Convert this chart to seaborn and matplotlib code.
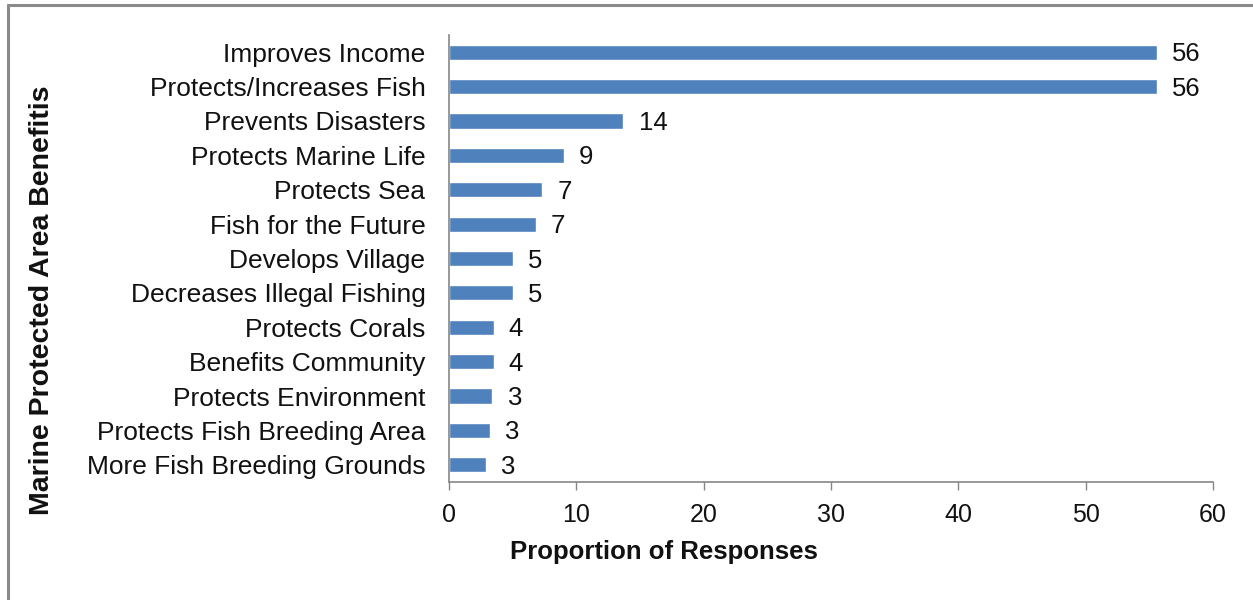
import matplotlib
matplotlib.use("Agg")
import matplotlib.pyplot as plt
from matplotlib.lines import Line2D
import seaborn as sns
import pandas as pd

# Benefits named by respondents and their share of responses (%)
benefits = [
    "Improves Income",
    "Protects/Increases Fish",
    "Prevents Disasters",
    "Protects Marine Life",
    "Protects Sea",
    "Fish for the Future",
    "Develops Village",
    "Decreases Illegal Fishing",
    "Protects Corals",
    "Benefits Community",
    "Protects Environment",
    "Protects Fish Breeding Area",
    "More Fish Breeding Grounds",
]
proportions = [55.6, 55.6, 13.7, 9.0, 7.3, 6.8, 5.0, 5.0, 3.5, 3.5, 3.4, 3.2, 2.9]
x_ticks = [0, 10, 20, 30, 40, 50, 60]

df = pd.DataFrame({"benefit": benefits, "proportion": proportions})

sns.set_theme(style="white")
plt.rcParams["font.family"] = ["Liberation Sans", "DejaVu Sans"]

W, H = 1253, 600
fig = plt.figure(figsize=(W / 100, H / 100), dpi=100)
ax = fig.add_axes([449 / W, 1 - 482 / H, (1213 - 449) / W, (482 - 35) / H])

bar_color = "#4F81BD"
sns.barplot(data=df, x="proportion", y="benefit", orient="h",
            color=bar_color, width=0.44, saturation=1, ax=ax)

# value labels at the end of each bar
for i, v in enumerate(proportions):
    ax.text(v + 1.2, i + 0.06, f"{v:.0f}", va="center", ha="left",
            fontsize=18.5, color="#111111")

ax.set_xlim(0, 60)
ax.set_ylim(len(benefits) - 0.5, -0.5)
ax.set_xticks(x_ticks)
ax.set_xticklabels([str(t) for t in x_ticks], fontsize=18, color="#111111")
ax.tick_params(axis="x", direction="out", length=6, width=1,
               color="#868686", pad=9, bottom=True)
ax.tick_params(axis="y", length=0, pad=17, labelsize=19,
               labelcolor="#111111")

for side in ("top", "right"):
    ax.spines[side].set_visible(False)
for side in ("left", "bottom"):
    ax.spines[side].set_color("#868686")
    ax.spines[side].set_linewidth(1.2)

ax.set_xlabel("Proportion of Responses", fontsize=18.5, fontweight="bold",
              color="#111111")
ax.xaxis.set_label_coords((664 - 449) / 764, (482 - 540) / 447)
ax.set_ylabel("Marine Protected Area Benefitis", fontsize=20.5,
              fontweight="bold", color="#111111")
ax.yaxis.set_label_coords((55 - 449) / 764, (482 - 300) / 447)

# outer frame
frame_kw = dict(color="#8a8a8a", linewidth=2.2, transform=fig.transFigure)
fig.add_artist(Line2D([8 / W, 8 / W], [1 - 5 / H, -0.01], **frame_kw))
fig.add_artist(Line2D([8 / W, 1.01], [1 - 5 / H, 1 - 5 / H], **frame_kw))

fig.savefig("out.png", dpi=100)
